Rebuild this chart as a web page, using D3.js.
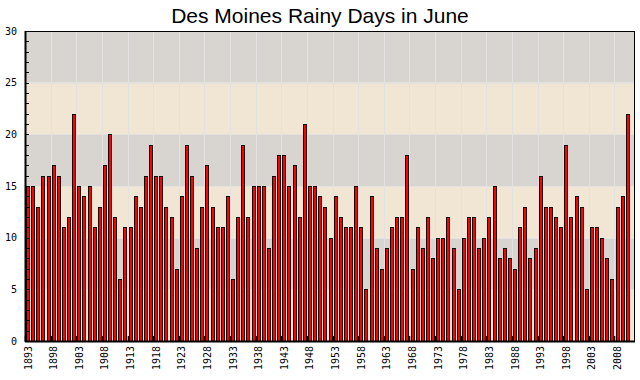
<!DOCTYPE html>
<html><head><meta charset="utf-8">
<script src="https://cdn.jsdelivr.net/npm/d3@7"></script>
<style>body{margin:0;background:#fff}</style>
</head><body>
<svg id="c" width="640" height="380"></svg>
<script>
const title = "Des Moines Rainy Days in June";
const firstYear = 1893;
const rainyDays = [
 15,15,13,16,16,17,16,11,12,22,15,14,15,11,13,17,20,12,6,11,11,14,13,16,19,16,16,13,
 12,7,14,19,16,9,13,17,13,11,11,14,6,12,19,12,15,15,15,9,16,18,18,15,17,12,21,15,15,14,13,10,
 14,12,11,11,15,11,5,14,9,7,9,11,12,12,18,7,11,9,12,8,10,10,12,9,5,10,12,12,9,10,12,
 15,8,9,8,7,11,13,8,9,16,13,13,12,11,19,12,14,13,5,11,11,10,8,6,13,14,22
];
const years = rainyDays.map((d,i)=>firstYear+i);
const slotYears = years.concat([years[years.length-1]+1]);
const yTicks = [0,5,10,15,20,25,30];
const bandBreaks = [0,5,10,15,20,25,30];
const labelYears = years.filter(y => (y-firstYear)%5===0);

const svg = d3.select("#c");
const L=25, R=635, T=31, B=341;
const x = d3.scaleBand().domain(slotYears).range([L,R]).padding(0);
const y = d3.scaleLinear().domain([0,30]).range([B,T]);

// background bands
const bands = d3.pairs(bandBreaks);
svg.append("g").selectAll("rect").data(bands).join("rect")
  .attr("x",L).attr("width",R-L)
  .attr("y",d=>y(d[1])).attr("height",d=>y(d[0])-y(d[1]))
  .attr("fill",(d,i)=> i%2===0 ? "#f1e5d3" : "#d8d5d1");

// gridlines
svg.append("g").selectAll("line").data(labelYears).join("line")
  .attr("x1",d=>Math.round(x(d))+0.5).attr("x2",d=>Math.round(x(d))+0.5)
  .attr("y1",T).attr("y2",B).attr("stroke","#e4e2e0").attr("stroke-width",1);
svg.append("g").selectAll("line").data(yTicks.slice(1,-1)).join("line")
  .attr("x1",L).attr("x2",R)
  .attr("y1",d=>Math.round(y(d))+0.5).attr("y2",d=>Math.round(y(d))+0.5)
  .attr("stroke","#e4e2e0").attr("stroke-width",1);

// bars
svg.append("g").selectAll("rect").data(rainyDays).join("rect")
  .attr("x",(d,i)=>Math.round(x(years[i])+x.bandwidth()/2+0.5)-1.5)
  .attr("width",3)
  .attr("y",d=>Math.round(y(d))+0.5)
  .attr("height",d=>B-Math.round(y(d)))
  .attr("fill","#ff0000").attr("stroke","#000").attr("stroke-width",0.9);

// x tick marks
svg.append("g").selectAll("line").data(labelYears).join("line")
  .attr("x1",d=>Math.round(x(d))+0.5).attr("x2",d=>Math.round(x(d))+0.5)
  .attr("y1",B).attr("y2",B-5).attr("stroke","#000").attr("stroke-width",1.5);

// y minor ticks
svg.append("g").selectAll("line").data(d3.range(1,30)).join("line")
  .attr("x1",L).attr("x2",L+4)
  .attr("y1",d=>Math.round(y(d))+0.5).attr("y2",d=>Math.round(y(d))+0.5)
  .attr("stroke","#000").attr("stroke-width",1);

// frame
svg.append("rect").attr("x",L+0.5).attr("y",T+0.5).attr("width",R-L-1).attr("height",B-T)
  .attr("fill","none").attr("stroke","#000").attr("stroke-width",1);
svg.append("line").attr("x1",L).attr("x2",R).attr("y1",B+0.5).attr("y2",B+0.5)
  .attr("stroke","#000").attr("stroke-width",2);
svg.append("line").attr("x1",L+0.5).attr("x2",L+0.5).attr("y1",T).attr("y2",B+1)
  .attr("stroke","#000").attr("stroke-width",2);

// y labels
svg.append("g").selectAll("text").data(yTicks).join("text")
  .attr("x",17).attr("y",d=>y(d)).attr("dy","0.35em")
  .attr("text-anchor","end")
  .style("font-family","'DejaVu Sans Mono', monospace").style("font-size","10px")
  .text(d=>d);

// x labels
svg.append("g").selectAll("text").data(labelYears).join("text")
  .attr("transform",d=>`translate(${x(d)+x.bandwidth()/2+4},346) rotate(-90)`)
  .attr("text-anchor","end")
  .style("font-family","'DejaVu Sans Mono', monospace").style("font-size","10px")
  .text(d=>d);

// title
svg.append("text").attr("x",320).attr("y",23).attr("text-anchor","middle")
  .style("font-family","'Liberation Sans', Arial, sans-serif").style("font-size","21px")
  .text(title);
</script>
</body></html>
